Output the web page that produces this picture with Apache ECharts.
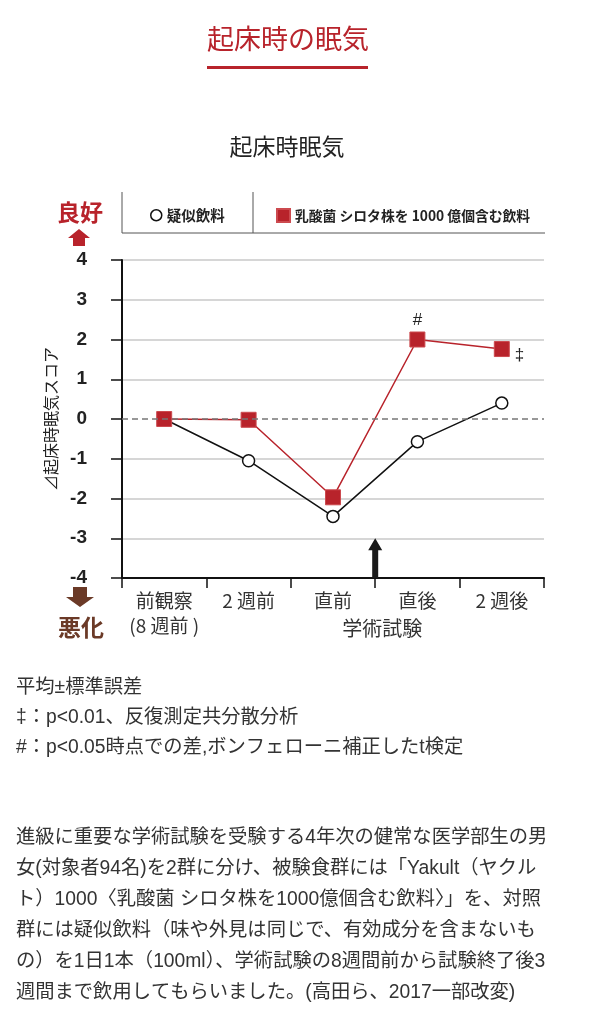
<!DOCTYPE html>
<html>
<head>
<meta charset="utf-8">
<script src="https://cdn.jsdelivr.net/npm/echarts@6/dist/echarts.min.js"></script>
<style>
  html, body { margin: 0; padding: 0; background: #fff; }
  #chart { width: 598px; height: 1024px; }
</style>
</head>
<body>
<div id="chart"></div>
<script>
  // 起床時眠気スコアの変化
  const categories = ['前観察\n(8 週前 )', '2 週前', '直前', '直後', '2 週後'];
  const placeboScore = [0, -1.05, -2.45, -0.57, 0.4];
  const shirotaScore = [0, -0.02, -1.97, 2.0, 1.76];
  const shirotaMarks = ['', '', '', '#', '‡'];
  const seriesNames = ['疑似飲料', '乳酸菌 シロタ株を 1000 億個含む飲料'];

  const footnotes = [
    '平均±標準誤差',
    '‡：p<0.01、反復測定共分散分析',
    '#：p<0.05時点での差,ボンフェローニ補正したt検定'
  ];
  const paragraph = [
    '進級に重要な学術試験を受験する4年次の健常な医学部生の男',
    '女(対象者94名)を2群に分け、被験食群には「Yakult（ヤクル',
    'ト）1000〈乳酸菌 シロタ株を1000億個含む飲料〉」を、対照',
    '群には疑似飲料（味や外見は同じで、有効成分を含まないも',
    'の）を1日1本（100ml）、学術試験の8週間前から試験終了後3',
    '週間まで飲用してもらいました。(高田ら、2017一部改変)'
  ];

  const RED = '#b8232b';
  const BROWN = '#6b3a27';
  const JP = '"Noto Sans CJK JP", sans-serif';
  const BODY = '"Liberation Sans", "Noto Sans CJK JP", sans-serif';

  let chart = echarts.init(document.getElementById('chart'));

  let redData = shirotaScore.map(function (v, i) {
    let item = { value: v };
    if (shirotaMarks[i] === '#') {
      item.label = { show: true, position: 'top', distance: 3, formatter: '#', fontSize: 17, color: '#222' };
    } else if (shirotaMarks[i]) {
      item.label = { show: true, position: 'right', distance: 5, offset: [0, 6], formatter: shirotaMarks[i], fontSize: 17, color: '#222' };
    }
    return item;
  });

  chart.setOption({
    animation: false,
    legend: [
      {
        data: [{ name: seriesNames[0], icon: 'circle', itemStyle: { color: '#fff', borderColor: '#111', borderWidth: 1.5 } }],
        left: 145, top: 203,
        itemWidth: 11, itemHeight: 11, itemGap: 6,
        textStyle: { fontSize: 14.5, fontWeight: 'bold', color: '#222', fontFamily: JP }
      },
      {
        data: [{ name: seriesNames[1], icon: 'rect' }],
        left: 271, top: 203,
        itemWidth: 13, itemHeight: 13, itemGap: 6,
        textStyle: { fontSize: 13.8, fontWeight: 'bold', color: '#222', fontFamily: JP }
      }
    ],
    grid: { left: 122, right: 54, top: 260, bottom: 446 },
    xAxis: {
      type: 'category',
      data: categories,
      boundaryGap: true,
      axisLine: { onZero: false, lineStyle: { color: '#111', width: 2 } },
      axisTick: { show: true, length: 10, lineStyle: { color: '#111', width: 1.5 } },
      axisLabel: { fontSize: 19, color: '#333', lineHeight: 25, margin: 10, fontFamily: JP, interval: 0 }
    },
    yAxis: {
      type: 'value',
      min: -4, max: 4, interval: 1,
      name: '⊿起床時眠気スコア',
      nameLocation: 'middle',
      nameRotate: 90,
      nameGap: 52,
      nameTextStyle: { fontSize: 16, color: '#222', fontFamily: JP },
      axisLine: { show: true, onZero: false, lineStyle: { color: '#111', width: 2 } },
      axisTick: { show: true, inside: false, length: 11, lineStyle: { color: '#111', width: 1.5 } },
      axisLabel: { fontSize: 19, fontWeight: 'bold', color: '#222', margin: 35, fontFamily: '"Liberation Sans Narrow", sans-serif' },
      splitLine: {
        show: true,
        lineStyle: {
          width: 1.5,
          color: ['#c8c8c8', '#c8c8c8', '#c8c8c8', '#c8c8c8', 'rgba(0,0,0,0)', '#c8c8c8', '#c8c8c8', '#c8c8c8', '#c8c8c8']
        }
      }
    },
    series: [
      {
        name: seriesNames[0],
        type: 'line',
        data: placeboScore,
        symbol: 'circle',
        symbolSize: 12,
        lineStyle: { color: '#111', width: 1.5 },
        itemStyle: { color: '#fff', borderColor: '#111', borderWidth: 1.5 },
        z: 3,
        markLine: {
          silent: true,
          symbol: 'none',
          data: [{ yAxis: 0 }],
          label: { show: false },
          lineStyle: { type: [6, 4], color: '#777', width: 1.5 }
        }
      },
      {
        name: seriesNames[1],
        type: 'line',
        data: redData,
        symbol: 'rect',
        symbolSize: 15,
        lineStyle: { color: RED, width: 1.5 },
        itemStyle: { color: RED, borderColor: '#cc4a4f', borderWidth: 1 },
        z: 4
      }
    ]
  });

  // 試験の矢印 (直前と直後の間)
  let ax = (chart.convertToPixel({ xAxisIndex: 0 }, categories[2]) + chart.convertToPixel({ xAxisIndex: 0 }, categories[3])) / 2;
  let yBase = chart.convertToPixel({ yAxisIndex: 0 }, -4);
  let yTip = chart.convertToPixel({ yAxisIndex: 0 }, -3);

  let graphics = [
    { type: 'text', x: 288, y: 39, style: { text: '起床時の眠気', fontSize: 27, fill: RED, fontFamily: JP, align: 'center', verticalAlign: 'middle' } },
    { type: 'rect', shape: { x: 207, y: 66, width: 161, height: 3 }, style: { fill: RED } },
    { type: 'text', x: 287, y: 146, style: { text: '起床時眠気', fontSize: 23, fill: '#222', fontFamily: JP, align: 'center', verticalAlign: 'middle' } },
    // legend frame
    { type: 'line', shape: { x1: 122, y1: 233, x2: 545, y2: 233 }, style: { stroke: '#555', lineWidth: 1 } },
    { type: 'line', shape: { x1: 122, y1: 192, x2: 122, y2: 233 }, style: { stroke: '#555', lineWidth: 1 } },
    { type: 'line', shape: { x1: 253, y1: 192, x2: 253, y2: 233 }, style: { stroke: '#555', lineWidth: 1 } },
    // 良好 / 悪化
    { type: 'text', x: 80, y: 212, style: { text: '良好', fontSize: 23, fontWeight: 'bold', fill: RED, fontFamily: JP, align: 'center', verticalAlign: 'middle' } },
    { type: 'polygon', shape: { points: [[79, 229], [90, 238], [85, 238], [85, 246], [73, 246], [73, 238], [68, 238]] }, style: { fill: RED } },
    { type: 'polygon', shape: { points: [[73, 587], [87, 587], [87, 597], [94, 597], [80, 607], [66, 597], [73, 597]] }, style: { fill: BROWN } },
    { type: 'text', x: 81, y: 627, style: { text: '悪化', fontSize: 23, fontWeight: 'bold', fill: BROWN, fontFamily: JP, align: 'center', verticalAlign: 'middle' } },
    // 試験の矢印
    { type: 'polygon', z: 10, shape: { points: [[ax - 3, yBase], [ax - 3, yTip + 12], [ax - 7, yTip + 12], [ax, yTip], [ax + 7, yTip + 12], [ax + 3, yTip + 12], [ax + 3, yBase]] }, style: { fill: '#1a1a1a' } },
    { type: 'text', x: ax + 7, y: 628, style: { text: '学術試験', fontSize: 20, fill: '#333', fontFamily: JP, align: 'center', verticalAlign: 'middle' } }
  ];

  footnotes.forEach(function (t, i) {
    graphics.push({ type: 'text', x: 16, y: 688 + i * 30, style: { text: t, fontSize: 19.3, fill: '#333', fontFamily: BODY, verticalAlign: 'middle' } });
  });
  paragraph.forEach(function (t, i) {
    graphics.push({ type: 'text', x: 16, y: 838 + i * 31, style: { text: t, fontSize: 19.3, fill: '#333', fontFamily: BODY, verticalAlign: 'middle' } });
  });

  chart.setOption({ graphic: graphics });
</script>
</body>
</html>
